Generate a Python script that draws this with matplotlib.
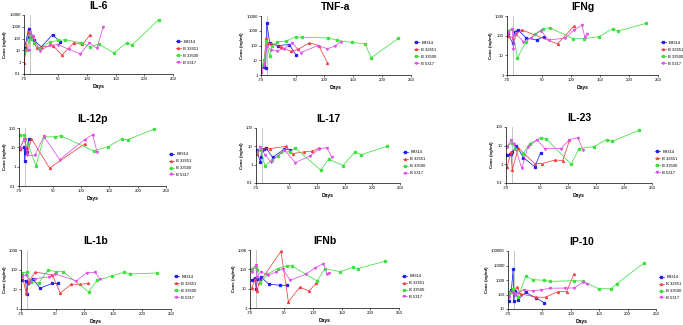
import matplotlib
matplotlib.use("Agg")
import matplotlib.pyplot as plt
from matplotlib.ticker import FixedLocator, NullLocator, FuncFormatter

plt.rcParams["font.family"] = ["Liberation Sans", "DejaVu Sans"]

# =================================
# DATA (days, concentration in ng/ml)
# =================================

subjects = ["B9314", "B 32651", "B 33500", "B 5317"]
x_ticks = [-10, 50, 100, 150, 200, 250]
x_tick_labels = ["-70", "50", "100", "150", "200", "250"]

il6_days = {
    "B9314": [-9, -2, -1, 1, 4, 8, 20, 40, 52],
    "B 32651": [-10, -2, 1, 5, 12, 20, 41, 56, 77, 92, 105],
    "B 33500": [-10, -5, 0, 3, 8, 17, 35, 50, 62, 90, 106, 120, 147, 169, 179, 225],
    "B 5317": [-10, -2, 1, 5, 18, 35, 50, 69, 88, 104, 117, 128],
}
il6_conc = {
    "B9314": [15, 700, 150, 250, 180, 70, 20, 220, 55],
    "B 32651": [0.8, 400, 200, 170, 15, 20, 25, 4, 45, 32, 200],
    "B 33500": [6, 10, 200, 100, 40, 15, 50, 70, 80, 45, 20, 35, 6, 45, 30, 4000],
    "B 5317": [10, 10, 350, 170, 9, 28, 30, 12, 5, 45, 15, 900],
}

tnfa_days = {
    "B9314": [-10, -5, -2, 0, 5, 19, 39, 51],
    "B 32651": [-10, -5, -1, 2, 8, 25, 42, 54, 74, 90, 105],
    "B 33500": [-10, -4, -1, 5, 9, 18, 34, 51, 61, 106, 121, 147, 170, 181, 228],
    "B 5317": [-10, -4, 0, 7, 18, 30, 44, 59, 89, 105, 118, 128],
}
tnfa_conc = {
    "B9314": [4, 3.5, 3, 3500, 150, 100, 115, 22],
    "B 32651": [1.5, 6, 300, 140, 130, 80, 40, 55, 150, 100, 7],
    "B 33500": [4, 10, 200, 19, 90, 180, 200, 400, 350, 330, 230, 160, 130, 15, 300],
    "B 5317": [2, 5, 100, 50, 45, 60, 150, 33, 100, 60, 90, 180],
}

ifng_days = {
    "B9314": [-9, 0, 3, 9, 22, 41, 54],
    "B 32651": [-9, 0, 6, 15, 77, 106],
    "B 33500": [-9, -1, 8, 22, 38, 52, 64, 104, 122, 149, 172, 181, 229],
    "B 5317": [-9, -1, 1, 5, 18, 32, 48, 62, 90, 105, 119, 124, 128],
}
ifng_conc = {
    "B9314": [140, 40, 160, 200, 80, 60, 90],
    "B 32651": [100, 80, 120, 200, 38, 320],
    "B 33500": [180, 220, 7.5, 45, 120, 230, 250, 70, 70, 90, 230, 170, 420],
    "B 5317": [130, 230, 20, 130, 50, 80, 180, 60, 75, 190, 340, 85, 120],
}

il12p_days = {
    "B9314": [-8, -1, 0, 1, 2, 4, 8],
    "B 32651": [-9, 0, 5, 12, 44, 106],
    "B 33500": [-8, -1, 6, 20, 34, 53, 64, 122, 148, 172, 182, 228],
    "B 5317": [-8, -1, 5, 18, 34, 62, 106, 120, 128],
}
il12p_conc = {
    "B9314": [8, 10, 2, 9, 5, 6, 26],
    "B 32651": [8, 30, 5, 28, 0.85, 15],
    "B 33500": [42, 42, 15, 1.1, 35, 35, 40, 6.5, 11, 28, 25, 85],
    "B 5317": [9, 28, 3.8, 3.8, 37, 2.3, 25, 45, 6],
}

il17_days = {
    "B9314": [-9, -2, -1, 0, 5, 8, 20, 41, 51],
    "B 32651": [-9, -1, 15, 44, 56, 77, 92, 104],
    "B 33500": [-9, -1, 6, 18, 30, 36, 51, 61, 107, 121, 147, 169, 180, 226],
    "B 5317": [-9, -2, 6, 17, 41, 61, 88, 103, 118, 127],
}
il17_conc = {
    "B9314": [6, 1.4, 2.6, 6, 7, 8, 2.5, 7, 6.5],
    "B 32651": [4, 7, 7.5, 10, 4, 5, 5.5, 8],
    "B 33500": [5, 6, 0.9, 1.7, 3, 5, 5, 8, 0.5, 2, 0.9, 5, 3.5, 10],
    "B 5317": [5, 9, 3.5, 1.4, 6.5, 1.3, 3, 7, 8.5, 2.5],
}

il23_days = {
    "B9314": [-8, -3, -1, 1, 8, 21, 41, 52],
    "B 32651": [-8, -1, 1, 12, 41, 54, 77, 91, 103],
    "B 33500": [-8, 0, 6, 21, 32, 53, 62, 106, 120, 147, 169, 179, 226],
    "B 5317": [-8, -1, 5, 18, 29, 46, 59, 88, 103, 118, 127],
}
il23_conc = {
    "B9314": [3, 3.5, 3.8, 4.5, 10, 2.3, 0.75, 4.3],
    "B 32651": [0.75, 4.5, 0.5, 7.5, 1.1, 1.1, 1.7, 1.6, 19],
    "B 33500": [10, 14, 7, 3.8, 13, 27, 23, 1, 7, 9, 21, 17, 65],
    "B 5317": [8.5, 20, 12, 0.6, 9, 20, 7, 7, 21, 27, 6],
}

il1b_days = {
    "B9314": [-8, -2, 0, 2, 10, 23, 44, 54],
    "B 32651": [-8, -1, 3, 15, 44, 58, 77, 93, 106],
    "B 33500": [-8, 0, 7, 21, 37, 50, 63, 107, 122, 148, 169, 179, 226],
    "B 5317": [-8, -1, 5, 15, 38, 49, 86, 104, 119, 127],
}
il1b_conc = {
    "B9314": [30, 26, 6, 20, 35, 11.5, 20, 20],
    "B 32651": [50, 6.5, 25, 75, 55, 6.5, 18, 18, 20],
    "B 33500": [65, 75, 24, 22, 95, 80, 80, 7.5, 29, 48, 75, 60, 68],
    "B 5317": [45, 55, 25, 35, 43, 60, 27, 70, 72, 32],
}

ifnb_days = {
    "B9314": [-7, -2, 1, 3, 7, 10, 23, 42, 54],
    "B 32651": [-7, -1, 2, 6, 44, 57, 77, 93, 106],
    "B 33500": [-7, 0, 2, 8, 20, 38, 54, 63, 107, 121, 147, 169, 178, 225],
    "B 5317": [-7, 0, 2, 9, 22, 36, 47, 60, 88, 104, 118, 124, 128],
}
ifnb_conc = {
    "B9314": [28, 35, 10, 33, 33, 38, 17, 15, 15],
    "B 32651": [11, 30, 7.5, 20, 850, 2.1, 12, 7.5, 20],
    "B 33500": [110, 140, 90, 20, 55, 110, 150, 150, 25, 110, 75, 125, 110, 260],
    "B 5317": [75, 170, 40, 75, 50, 75, 110, 27, 57, 120, 200, 60, 62],
}

ip10_days = {
    "B9314": [-9, -4, -1, 0, 2, 8, 21, 40, 53],
    "B 32651": [-9, -1, 6, 12, 40, 56, 78, 93, 106],
    "B 33500": [-9, -1, 8, 21, 34, 54, 64, 106, 121, 149, 171, 181, 229],
    "B 5317": [-9, -1, 3, 8, 18, 34, 48, 64, 90, 106, 122, 128],
}
ip10_conc = {
    "B9314": [38, 200, 5500, 35, 170, 45, 140, 55, 28],
    "B 32651": [150, 150, 330, 110, 65, 65, 160, 160, 2700],
    "B 33500": [120, 250, 65, 1800, 1050, 950, 800, 900, 850, 250, 250, 550, 15000],
    "B 5317": [70, 150, 100, 130, 220, 170, 210, 270, 280, 280, 700, 550],
}

# =================================
# STYLE / LAYOUT
# =================================

colors = {"B9314": "#2020f0", "B 32651": "#f04040", "B 33500": "#40e040", "B 5317": "#e050e8"}
markers = {"B9314": "s", "B 32651": "^", "B 33500": "s", "B 5317": "v"}

# name, days, conc, y range, axes box in pixels (left, top, right, bottom)
panels = [
    ("IL-6", il6_days, il6_conc, (0.1, 10000), (24, 15, 173, 74)),
    ("TNF-a", tnfa_days, tnfa_conc, (1, 10000), (261, 16, 411, 75)),
    ("IFNg", ifng_days, ifng_conc, (1, 1000), (507, 16, 658, 75)),
    ("IL-12p", il12p_days, il12p_conc, (0.1, 100), (19, 128, 166, 186)),
    ("IL-17", il17_days, il17_conc, (0.1, 100), (256, 128, 400, 183)),
    ("IL-23", il23_days, il23_conc, (0.1, 100), (506, 127, 652, 183)),
    ("IL-1b", il1b_days, il1b_conc, (1, 1000), (21, 250, 171, 309)),
    ("IFNb", ifnb_days, ifnb_conc, (1, 1000), (250, 250, 399, 308)),
    ("IP-10", ip10_days, ip10_conc, (10, 100000), (508, 251, 656, 309)),
]

W, H = 683, 325
fig = plt.figure(figsize=(W / 100, H / 100), dpi=100)

for name, days, conc, (ylo, yhi), (l, t, r, b) in panels:
    ax = fig.add_axes([l / W, 1 - b / H, (r - l) / W, (b - t) / H])

    ax.axvline(0, color="#bdbdbd", lw=0.6, zorder=0)

    for s in subjects:
        ax.plot(days[s], conc[s], color=colors[s], marker=markers[s],
                markersize=1.4, lw=0.55, label=s)

    ax.set_yscale("log")
    ax.set_ylim(ylo, yhi)
    ax.set_xlim(-10, 250)

    decades = []
    v = ylo
    while v <= yhi * 1.001:
        decades.append(v)
        v *= 10
    ax.yaxis.set_major_locator(FixedLocator(decades))
    ax.yaxis.set_minor_locator(NullLocator())
    ax.yaxis.set_major_formatter(FuncFormatter(lambda y, p: "%g" % y))

    ax.set_xticks(x_ticks)
    ax.set_xticklabels(x_tick_labels)

    for side in ["top", "right"]:
        ax.spines[side].set_visible(False)
    for side in ["left", "bottom"]:
        ax.spines[side].set_linewidth(0.5)

    ax.tick_params(labelsize=3.1, length=1.5, width=0.4, pad=1)

    ax.set_title(name, fontsize=7.5, fontweight="bold", pad=4.5)
    ax.set_xlabel("Days", fontsize=3.6, fontweight="bold", labelpad=1.5)
    ax.set_ylabel("Conc (ng/ml)", fontsize=3.2, fontweight="bold", labelpad=1.2)

    ax.legend(loc="center left", bbox_to_anchor=(1.0, 0.37), frameon=False,
              fontsize=3.0, handlelength=1.2, handletextpad=0.6,
              labelspacing=0.7, borderaxespad=0.3, markerscale=1.0)

plt.savefig("out.png", dpi=100)
